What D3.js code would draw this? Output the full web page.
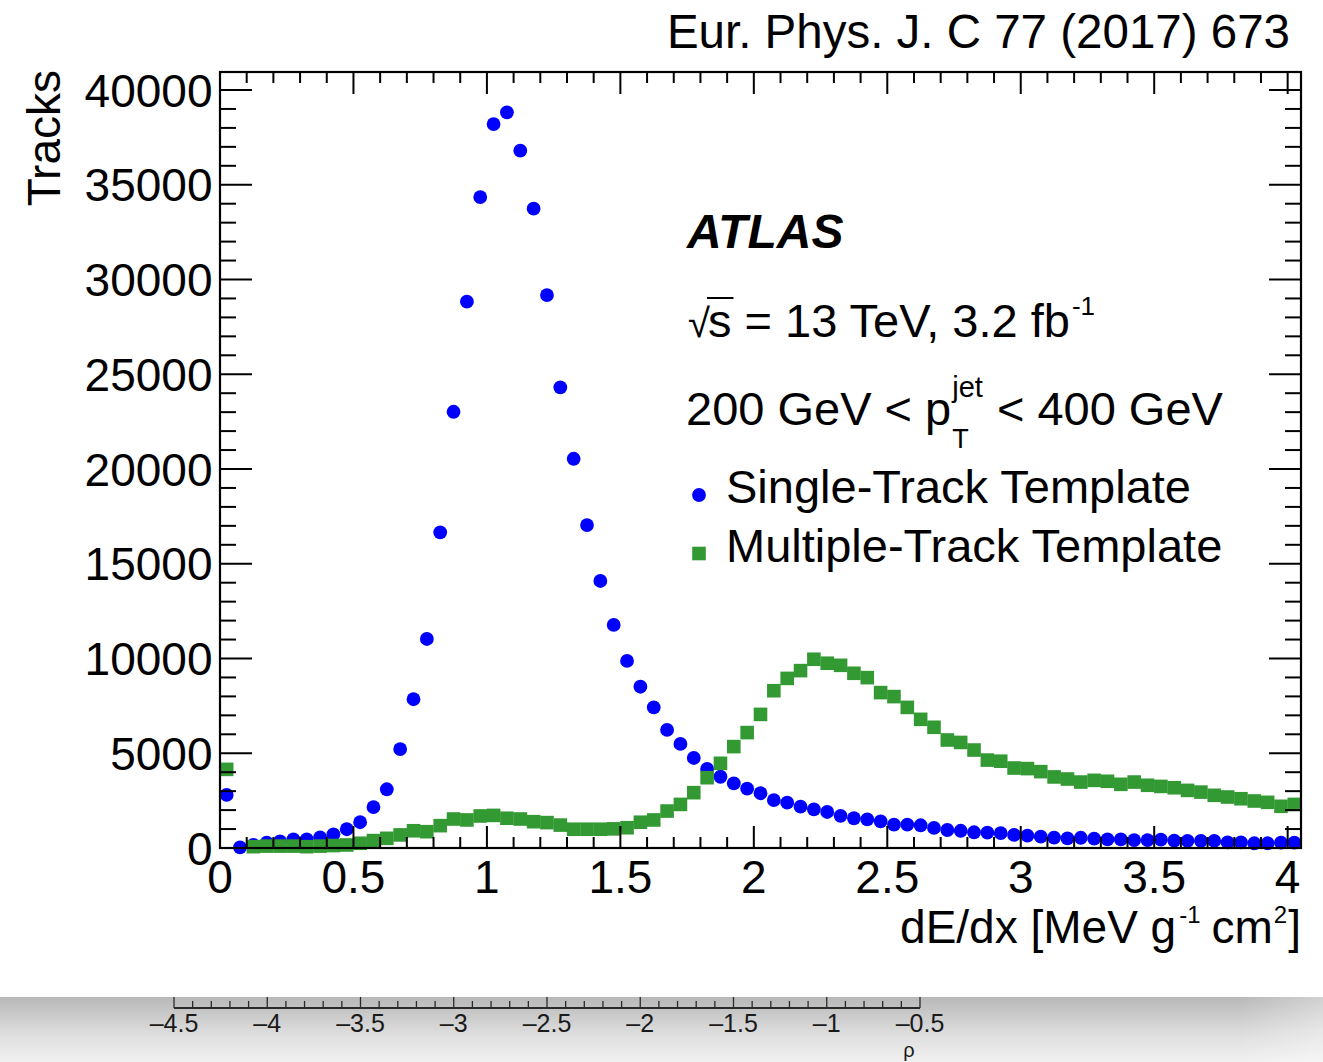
<!DOCTYPE html>
<html>
<head>
<meta charset="utf-8">
<script src="https://cdn.jsdelivr.net/npm/d3@7"></script>
<style>
  html, body { margin: 0; padding: 0; background: #fff; }
  svg { display: block; }
  text { font-family: "Liberation Sans", Arial, Helvetica, sans-serif; fill: #000; }
</style>
</head>
<body>
<svg id="chart" width="1323" height="1062"></svg>
<script>
// dE/dx bin centres (bin width 0.05 MeV g^-1 cm^2)
const binCenters = [
  0.025, 0.075, 0.125, 0.175, 0.225, 0.275, 0.325, 0.375, 0.425, 0.475,
  0.525, 0.575, 0.625, 0.675, 0.725, 0.775, 0.825, 0.875, 0.925, 0.975,
  1.025, 1.075, 1.125, 1.175, 1.225, 1.275, 1.325, 1.375, 1.425, 1.475,
  1.525, 1.575, 1.625, 1.675, 1.725, 1.775, 1.825, 1.875, 1.925, 1.975,
  2.025, 2.075, 2.125, 2.175, 2.225, 2.275, 2.325, 2.375, 2.425, 2.475,
  2.525, 2.575, 2.625, 2.675, 2.725, 2.775, 2.825, 2.875, 2.925, 2.975,
  3.025, 3.075, 3.125, 3.175, 3.225, 3.275, 3.325, 3.375, 3.425, 3.475,
  3.525, 3.575, 3.625, 3.675, 3.725, 3.775, 3.825, 3.875, 3.925, 3.975,
  4.025
];

// Single-track template (tracks per bin)
const singleTrack = [
  2800, 30, 160, 280, 350, 460, 460, 560, 720, 990,
  1360, 2160, 3100, 5220, 7850, 11030, 16660, 23020, 28830, 34350,
  38200, 38820, 36800, 33740, 29180, 24310, 20540, 17040, 14090, 11770,
  9870, 8510, 7420, 6230, 5490, 4750, 4170, 3760, 3410, 3130,
  2890, 2530, 2390, 2180, 2040, 1900, 1700, 1570, 1510, 1410,
  1230, 1230, 1200, 1060, 950, 910, 830, 810, 780, 690,
  650, 600, 550, 510, 540, 500, 460, 450, 420, 420,
  440, 390, 380, 380, 370, 300, 300, 250, 250, 280,
  280
];

// Multiple-track template (tracks per bin; empty bin = null)
const multipleTrack = [
  4150, null, 70, 100, 100, 100, 70, 100, 130, 160,
  250, 390, 510, 690, 910, 860, 1180, 1530, 1480, 1690,
  1720, 1570, 1530, 1390, 1340, 1210, 990, 990, 990, 1010,
  1070, 1360, 1480, 1950, 2300, 2920, 3710, 4470, 5350, 6090,
  7050, 8300, 8950, 9360, 9960, 9750, 9640, 9220, 8990, 8200,
  7990, 7420, 6790, 6370, 5700, 5570, 5170, 4640, 4580, 4220,
  4190, 4030, 3750, 3640, 3480, 3570, 3520, 3360, 3480, 3310,
  3250, 3180, 3040, 2950, 2780, 2690, 2600, 2480, 2410, 2200,
  2300
];

const xTickValues = [0, 0.5, 1, 1.5, 2, 2.5, 3, 3.5, 4];
const xTickLabels = ["0", "0.5", "1", "1.5", "2", "2.5", "3", "3.5", "4"];
const yTickValues = [0, 5000, 10000, 15000, 20000, 25000, 30000, 35000, 40000];
const yTickLabels = ["0", "5000", "10000", "15000", "20000", "25000", "30000", "35000", "40000"];

const rhoTickValues = [-4.5, -4, -3.5, -3, -2.5, -2, -1.5, -1, -0.5];
const rhoTickLabels = ["\u20134.5", "\u20134", "\u20133.5", "\u20133", "\u20132.5", "\u20132", "\u20131.5", "\u20131", "\u20130.5"];

const seriesNames = ["Single-Track Template", "Multiple-Track Template"];
const seriesColors = ["#0000ff", "#339933"];

// ---------------------------------------------------------------
const svg = d3.select("#chart");
const frame = { left: 220, right: 1301, top: 72, bottom: 848 };

const x = d3.scaleLinear().domain([0, 4.05]).range([frame.left, frame.right]);
const y = d3.scaleLinear().domain([0, 40950]).range([frame.bottom, frame.top]);

const FS = 46;   // axis text size
const PS = 47;   // text size inside the frame

// lay out a run of text pieces (with super/subscripts) on one baseline
function richText(parent, x0, baseY, parts, align) {
  const g = parent.append("g");
  let cx = 0;
  const items = parts.map(p => {
    const el = g.append("text")
      .attr("y", baseY + (p.dy || 0))
      .style("font-size", (p.size || FS) + "px")
      .text(p.t);
    if (p.weight) el.style("font-weight", p.weight);
    if (p.italic) el.style("font-style", "italic");
    const w = el.node().getComputedTextLength();
    const px = cx + (p.dx || 0);
    const it = { el, x: px, w };
    cx = px + w;
    return it;
  });
  const start = align === "end" ? x0 - cx : x0;
  items.forEach(it => it.el.attr("x", start + it.x));
  return { start, items };
}

// ---------- data markers ----------
const plot = svg.append("g");

const singlePts = binCenters.map((c, i) => ({ c, v: singleTrack[i] })).filter(d => d.v !== null);
const multiPts = binCenters.map((c, i) => ({ c, v: multipleTrack[i] })).filter(d => d.v !== null);

plot.append("g").selectAll("circle")
  .data(singlePts).join("circle")
  .attr("cx", d => x(d.c))
  .attr("cy", d => y(d.v))
  .attr("r", 6.9)
  .attr("fill", seriesColors[0]);

const sq = 13.6;
plot.append("g").selectAll("rect")
  .data(multiPts).join("rect")
  .attr("x", d => x(d.c) - sq / 2)
  .attr("y", d => y(d.v) - sq / 2)
  .attr("width", sq)
  .attr("height", sq)
  .attr("fill", seriesColors[1]);

// ---------- frame and ticks ----------
const axes = svg.append("g").attr("stroke", "#000").attr("stroke-width", 2);

const xMinor = d3.range(0, 41).map(i => i / 10);
const yMinor = d3.range(0, 41).map(i => i * 1000);

// bottom / top ticks
xMinor.forEach(v => {
  const major = Math.abs(v * 2 - Math.round(v * 2)) < 1e-6;
  const len = major ? 22 : 11;
  axes.append("line").attr("x1", x(v)).attr("x2", x(v))
    .attr("y1", frame.bottom).attr("y2", frame.bottom - len);
  axes.append("line").attr("x1", x(v)).attr("x2", x(v))
    .attr("y1", frame.top).attr("y2", frame.top + len);
});
// left / right ticks
yMinor.forEach(v => {
  if (y(v) < frame.top) return;
  const major = v % 5000 === 0;
  const len = major ? 32 : 16;
  axes.append("line").attr("y1", y(v)).attr("y2", y(v))
    .attr("x1", frame.left).attr("x2", frame.left + len);
  axes.append("line").attr("y1", y(v)).attr("y2", y(v))
    .attr("x1", frame.right).attr("x2", frame.right - len);
});

svg.append("rect")
  .attr("x", frame.left).attr("y", frame.top)
  .attr("width", frame.right - frame.left)
  .attr("height", frame.bottom - frame.top)
  .attr("fill", "none").attr("stroke", "#000").attr("stroke-width", 2.2);

// tick labels
const labels = svg.append("g");
xTickValues.forEach((v, i) => {
  labels.append("text")
    .attr("x", x(v)).attr("y", 893)
    .attr("text-anchor", "middle")
    .style("font-size", FS + "px")
    .text(xTickLabels[i]);
});
yTickValues.forEach((v, i) => {
  labels.append("text")
    .attr("x", 212.5).attr("y", y(v) + 16.5)
    .attr("text-anchor", "end")
    .style("font-size", FS + "px")
    .text(yTickLabels[i]);
});

// axis titles
svg.append("text")
  .attr("transform", "translate(60,70) rotate(-90)")
  .attr("text-anchor", "end")
  .style("font-size", FS + "px")
  .text("Tracks");

richText(svg, 1301, 943, [
  { t: "dE/dx [MeV g", size: 46 },
  { t: "-1", size: 24, dy: -20, dx: 3 },
  { t: "cm", size: 46, dx: 11 },
  { t: "2", size: 24, dy: -20, dx: 1 },
  { t: "]", size: 46, dx: 1 }
], "end");

// journal reference
svg.append("text")
  .attr("x", 1290).attr("y", 48)
  .attr("text-anchor", "end")
  .style("font-size", "47.5px")
  .text("Eur. Phys. J. C 77 (2017) 673");

// ---------- labels inside the frame ----------
svg.append("text")
  .attr("x", 687).attr("y", 248)
  .style("font-size", "48px")
  .style("font-weight", "bold")
  .style("font-style", "italic")
  .text("ATLAS");

// sqrt(s) line
const rt = richText(svg, 688, 337, [
  { t: "\u221A", size: 40 },
  { t: "s = 13 TeV, 3.2 fb", size: PS, dx: -2 },
  { t: "-1", size: 26, dy: -22, dx: 2 }
], "start");
{
  const sx = rt.start + rt.items[1].x;
  const sW = 0.5 * PS;
  svg.append("line")
    .attr("x1", sx - 1).attr("x2", sx + sW + 2)
    .attr("y1", 298).attr("y2", 298)
    .attr("stroke", "#000").attr("stroke-width", 2);
}

// jet pT range
const pt = richText(svg, 686, 425, [
  { t: "200 GeV < p", size: PS },
  { t: "jet", size: 29, dy: -28, dx: 1 },
  { t: "< 400 GeV", size: PS, dx: 14 }
], "start");
svg.append("text")
  .attr("x", pt.start + pt.items[1].x)
  .attr("y", 448)
  .style("font-size", "27px")
  .text("T");

// legend
const legY = [503, 562];
svg.append("circle")
  .attr("cx", 699).attr("cy", 495).attr("r", 6.9)
  .attr("fill", seriesColors[0]);
svg.append("rect")
  .attr("x", 699 - sq / 2).attr("y", 553.5 - sq / 2)
  .attr("width", sq).attr("height", sq)
  .attr("fill", seriesColors[1]);
seriesNames.forEach((n, i) => {
  svg.append("text")
    .attr("x", 726).attr("y", legY[i])
    .style("font-size", PS + "px")
    .text(n);
});

// ---------- strip with the rho axis ----------
const defs = svg.append("defs");
const vg = defs.append("linearGradient").attr("id", "stripV")
  .attr("x1", 0).attr("y1", 0).attr("x2", 0).attr("y2", 1);
vg.append("stop").attr("offset", "0%").attr("stop-color", "#b8b8b8");
vg.append("stop").attr("offset", "55%").attr("stop-color", "#dcdcdc");
vg.append("stop").attr("offset", "100%").attr("stop-color", "#f1f1f1");
const hg = defs.append("linearGradient").attr("id", "stripH")
  .attr("x1", 0).attr("y1", 0).attr("x2", 1).attr("y2", 0);
hg.append("stop").attr("offset", "0%").attr("stop-color", "#fff").attr("stop-opacity", 0);
hg.append("stop").attr("offset", "100%").attr("stop-color", "#fff").attr("stop-opacity", 0.35);

svg.append("rect").attr("x", 0).attr("y", 997).attr("width", 1323).attr("height", 65)
  .attr("fill", "url(#stripV)");
svg.append("rect").attr("x", 1240).attr("y", 997).attr("width", 83).attr("height", 65)
  .attr("fill", "url(#stripH)");

const rho = d3.scaleLinear().domain([-4.5, -0.5]).range([174, 920]);
const rhoG = svg.append("g").attr("stroke", "#2a2a2a").attr("stroke-width", 1.3);
rhoG.append("line").attr("x1", rho(-4.5)).attr("x2", rho(-0.5))
  .attr("y1", 1008).attr("y2", 1008).attr("stroke-width", 1.8);
d3.range(0, 41).map(i => -4.5 + i / 10).forEach(v => {
  const major = Math.abs(v * 2 - Math.round(v * 2)) < 1e-6;
  rhoG.append("line").attr("x1", rho(v)).attr("x2", rho(v))
    .attr("y1", 1008).attr("y2", major ? 997 : 1001);
});
rhoTickValues.forEach((v, i) => {
  svg.append("text")
    .attr("x", rho(v)).attr("y", 1032)
    .attr("text-anchor", "middle")
    .style("font-size", "25px")
    .style("fill", "#1a1a1a")
    .text(rhoTickLabels[i]);
});
svg.append("text")
  .attr("x", 909).attr("y", 1057)
  .attr("text-anchor", "middle")
  .style("font-size", "20px")
  .style("fill", "#1a1a1a")
  .text("\u03C1");
</script>
</body>
</html>
